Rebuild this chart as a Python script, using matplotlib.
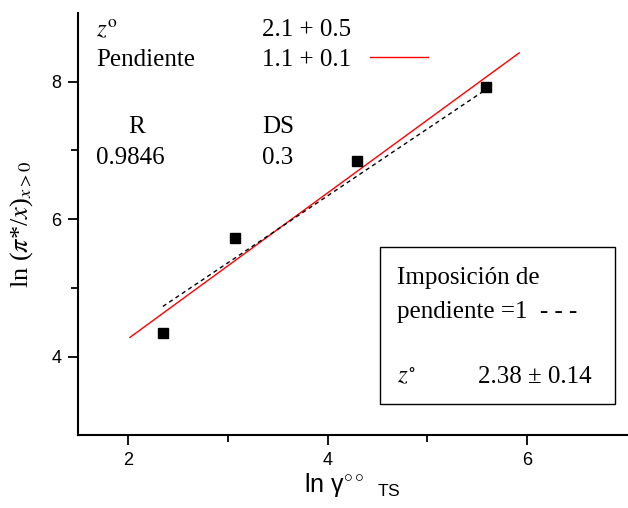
import matplotlib
matplotlib.use("Agg")
import matplotlib.pyplot as plt
from matplotlib.lines import Line2D
from matplotlib.patches import Rectangle

# data
ln_gamma = [2.35, 3.07, 4.30, 5.59]
ln_pi_x = [4.34, 5.72, 6.84, 7.92]
fit_x = [2.02, 5.92]
fit_y = [4.28, 8.42]
fixed_x = [2.35, 5.58]
fixed_y = [4.73, 7.88]
xticks = [2, 4, 6]
yticks = [4, 6, 8]

plt.rcParams['mathtext.fontset'] = 'custom'
plt.rcParams['mathtext.rm'] = 'Liberation Sans'
plt.rcParams['mathtext.it'] = 'Liberation Sans:italic'

W, H = 628, 508
fig = plt.figure(figsize=(W / 100, H / 100), dpi=100)
L, R, T, B = 78, 627, 13, 435
ax = fig.add_axes([L / W, 1 - B / H, (R - L) / W, (B - T) / H])

ax.plot(fit_x, fit_y, color='#ff0000', lw=1.0)
ax.plot(fixed_x, fixed_y, color='black', lw=1.0, ls=(0, (3, 2.5)))
ax.plot(ln_gamma, ln_pi_x, 's', color='black', ms=7.5, ls='none')

ax.set_xlim(1.5, 7.0)
ax.set_ylim(2.86, 9.0)
ax.set_xticks(xticks)
ax.set_yticks(yticks)
ax.set_xticks([3, 5], minor=True)
ax.set_yticks([5, 7], minor=True)
for s in ['top', 'right']:
    ax.spines[s].set_visible(False)
for s in ['left', 'bottom']:
    ax.spines[s].set_linewidth(1.5)
ax.tick_params(which='major', direction='out', length=7, width=1.3, pad=5)
ax.tick_params(which='minor', direction='out', length=5, width=1.3)
for lab in ax.get_xticklabels() + ax.get_yticklabels():
    lab.set_family('Liberation Sans')
    lab.set_fontsize(13)

ax.set_ylabel(r'ln (${\pi}$*/${x}$)${}_{x>0}$', fontsize=19,
              family='Liberation Serif', math_fontfamily='stix', labelpad=12)
ax.set_xlabel(r'ln γ$^{\circ\circ}{}_{\ \ \mathrm{TS}}$', fontsize=18,
              family='Liberation Sans', labelpad=2)

serif = dict(family='Liberation Serif', fontsize=18, va='center', ha='left',
             math_fontfamily='stix')

def ft(x, y, s, **kw):
    d = dict(serif)
    d.update(kw)
    fig.text(x / W, 1 - y / H, s, **d)

ft(96, 30, r'$z^{\mathrm{o}}$')
ft(262, 30, '2.1 + 0.5')
ft(96, 60, 'Pendiente')
ft(262, 60, '1.1 + 0.1')
fig.add_artist(Line2D([370 / W, 428 / W], [1 - 57 / H, 1 - 57 / H],
                      color='#ff0000', lw=1.0))
ft(128, 127, 'R')
ft(262, 127, 'DS')
ft(96, 158, '0.9846')
ft(262, 158, '0.3')

# box
fig.add_artist(Rectangle((380 / W, 1 - 404 / H), (615 - 380) / W, (404 - 247) / H,
                         fill=False, edgecolor='black', lw=1.0))
ft(397, 278, 'Imposición de')
ft(397, 312, 'pendiente =1  - - -')
ft(397, 377, r'$z^{\circ}$')
ft(478, 377, '2.38 ± 0.14')

fig.savefig('out.png', dpi=100)
